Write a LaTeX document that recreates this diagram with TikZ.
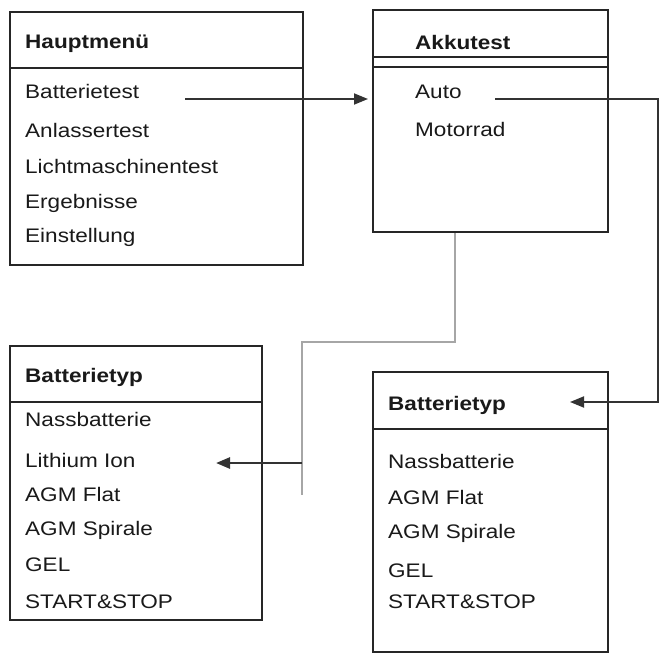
\documentclass[tikz,border=0pt]{standalone}
\usepackage{fontspec}
\setmainfont[FakeStretch=1.15]{Liberation Sans}
\usetikzlibrary{arrows.meta}
\begin{document}
\begin{tikzpicture}[x=1pt,y=-1pt,
  box/.style={draw=black!85,line width=1.8pt},
  txt/.style={anchor=west,inner sep=0pt,font=\fontsize{19.6}{19.6}\selectfont,text=black!90},
  hd/.style={txt,font=\fontsize{19.6}{19.6}\selectfont\bfseries},
  conn/.style={line width=1.8pt,draw=black!80,-{Triangle[length=14pt,width=11pt]}},
  gconn/.style={line width=2.4pt,draw=black!35}]
\useasboundingbox (0,0) rectangle (662,653);
% boxes
\draw[box] (10,12) rectangle (303,265); \draw[box] (10,68) -- (303,68);
\draw[box] (373,10) rectangle (608,232); \draw[box] (373,57) -- (608,57); \draw[box] (373,67) -- (608,67);
\draw[box] (10,346) rectangle (262,620); \draw[box] (10,402) -- (262,402);
\draw[box] (373,372) rectangle (608,652); \draw[box] (373,429) -- (608,429);
% texts
\node[hd] (h1) at (25,44) {Hauptmenü};
\node[txt] (bt) at (25,91) {Batterietest};
\node[txt] at (25,130) {Anlassertest};
\node[txt] at (25,166) {Lichtmaschinentest};
\node[txt] at (25,203) {Ergebnisse};
\node[txt] at (25,237) {Einstellung};
\node[hd] (h2) at (415,42) {Akkutest};
\node[txt] (auto) at (415,92) {Auto};
\node[txt] at (415,129) {Motorrad};
\node[hd] (h3) at (25,377) {Batterietyp};
\node[txt] at (25,419) {Nassbatterie};
\node[txt] (li) at (25,460) {Lithium Ion};
\node[txt] at (25,494) {AGM Flat};
\node[txt] at (25,530) {AGM Spirale};
\node[txt] at (25,565) {GEL};
\node[txt] at (25,602) {START\&STOP};
\node[hd] (h4) at (388,405) {Batterietyp};
\node[txt] at (388,461) {Nassbatterie};
\node[txt] at (388,497) {AGM Flat};
\node[txt] at (388,533) {AGM Spirale};
\node[txt] at (388,571) {GEL};
\node[txt] at (388,602) {START\&STOP};
% connectors
\coordinate (a1) at (185,99);
\coordinate (a2) at (368,99);
\draw[conn] (a1) -- (a2);
\coordinate (b1) at (495,99);
\coordinate (b2) at (570,402);
\draw[conn] (b1) -- (658,99) -- (658,402) -- (b2);
\coordinate (g1) at (455,233);
\coordinate (g2) at (302,495);
\draw[gconn] (g1) -- (455,342) -- (302,342) -- (g2);
\coordinate (c1) at (302,463);
\coordinate (c2) at (216,463);
\draw[conn,line width=2.6pt] (c1) -- (c2);
\end{tikzpicture}
\end{document}
